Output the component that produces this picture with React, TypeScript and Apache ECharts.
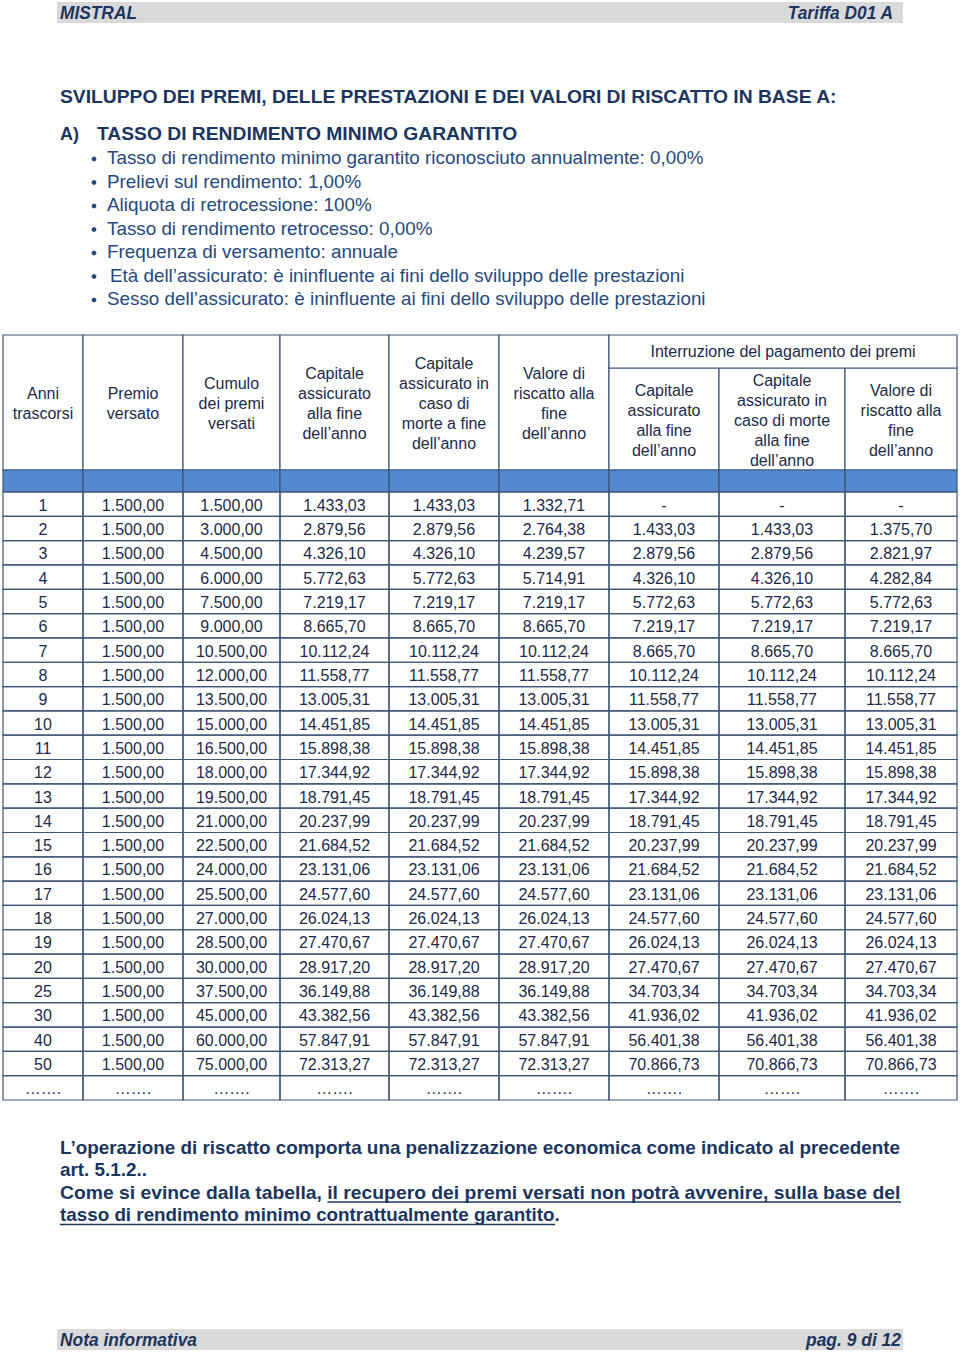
import React, { useEffect, useRef } from "react";
import * as echarts from "echarts";

// ---------------- DATA ----------------
const yearLabels = ["1","2","3","4","5","6","7","8","9","10","11","12","13","14","15","16","17","18","19","20","25","30","40","50"];
const premioVersato = [1500,1500,1500,1500,1500,1500,1500,1500,1500,1500,1500,1500,1500,1500,1500,1500,1500,1500,1500,1500,1500,1500,1500,1500];
const cumuloPremi = [1500,3000,4500,6000,7500,9000,10500,12000,13500,15000,16500,18000,19500,21000,22500,24000,25500,27000,28500,30000,37500,45000,60000,75000];
const capitaleFine = [1433.03,2879.56,4326.10,5772.63,7219.17,8665.70,10112.24,11558.77,13005.31,14451.85,15898.38,17344.92,18791.45,20237.99,21684.52,23131.06,24577.60,26024.13,27470.67,28917.20,36149.88,43382.56,57847.91,72313.27];
const capitaleMorte = [1433.03,2879.56,4326.10,5772.63,7219.17,8665.70,10112.24,11558.77,13005.31,14451.85,15898.38,17344.92,18791.45,20237.99,21684.52,23131.06,24577.60,26024.13,27470.67,28917.20,36149.88,43382.56,57847.91,72313.27];
const valoreRiscatto = [1332.71,2764.38,4239.57,5714.91,7219.17,8665.70,10112.24,11558.77,13005.31,14451.85,15898.38,17344.92,18791.45,20237.99,21684.52,23131.06,24577.60,26024.13,27470.67,28917.20,36149.88,43382.56,57847.91,72313.27];
const intCapitaleFine = [null,1433.03,2879.56,4326.10,5772.63,7219.17,8665.70,10112.24,11558.77,13005.31,14451.85,15898.38,17344.92,18791.45,20237.99,21684.52,23131.06,24577.60,26024.13,27470.67,34703.34,41936.02,56401.38,70866.73];
const intCapitaleMorte = [null,1433.03,2879.56,4326.10,5772.63,7219.17,8665.70,10112.24,11558.77,13005.31,14451.85,15898.38,17344.92,18791.45,20237.99,21684.52,23131.06,24577.60,26024.13,27470.67,34703.34,41936.02,56401.38,70866.73];
const intValoreRiscatto = [null,1375.70,2821.97,4282.84,5772.63,7219.17,8665.70,10112.24,11558.77,13005.31,14451.85,15898.38,17344.92,18791.45,20237.99,21684.52,23131.06,24577.60,26024.13,27470.67,34703.34,41936.02,56401.38,70866.73];
const ellipsisRow = "…….";

const columnHeaders = [
  "Anni\ntrascorsi",
  "Premio\nversato",
  "Cumulo\ndei premi\nversati",
  "Capitale\nassicurato\nalla fine\ndell’anno",
  "Capitale\nassicurato in\ncaso di\nmorte a fine\ndell’anno",
  "Valore di\nriscatto alla\nfine\ndell’anno",
  "Capitale\nassicurato\nalla fine\ndell’anno",
  "Capitale\nassicurato in\ncaso di morte\nalla fine\ndell’anno",
  "Valore di\nriscatto alla\nfine\ndell’anno",
];
const groupHeader = "Interruzione del pagamento dei premi";

const headerLeft = "MISTRAL";
const headerRight = "Tariffa D01 A";
const footerLeft = "Nota informativa";
const footerRight = "pag. 9 di 12";
const titleText = "SVILUPPO DEI PREMI, DELLE PRESTAZIONI E DEI VALORI DI RISCATTO IN BASE A:";
const sectionLetter = "A)";
const sectionText = "TASSO DI RENDIMENTO MINIMO GARANTITO";
const bulletItems = [
  "Tasso di rendimento minimo garantito riconosciuto annualmente: 0,00%",
  "Prelievi sul rendimento: 1,00%",
  "Aliquota di retrocessione: 100%",
  "Tasso di rendimento retrocesso: 0,00%",
  "Frequenza di versamento: annuale",
  "Età dell’assicurato: è ininfluente ai fini dello sviluppo delle prestazioni",
  "Sesso dell’assicurato: è ininfluente ai fini dello sviluppo delle prestazioni",
];
const noteLine1 = "L’operazione di riscatto comporta una penalizzazione economica come indicato al precedente";
const noteLine2 = "art. 5.1.2..";
const noteLine3a = "Come si evince dalla tabella, ";
const noteLine3b = "il recupero dei premi versati non potrà avvenire, sulla base del";
const noteLine4a = "tasso di rendimento minimo contrattualmente garantito";
const noteLine4b = ".";

// ---------------- LAYOUT / STYLE ----------------
const FONT = '"Liberation Sans", Arial, Helvetica, sans-serif';
const NAVY = "#1b355e";
const BULLET = "#26497c";
const TXT = "#1c2a48";
const LINE = "#3e5676";
const BAND = "#5289d1";
const GRAY = "#d9d9d9";
const TABLE_L = 3;
const TABLE_R = 957;
const colEdgesPx = [3, 83, 183, 280, 389, 499, 609, 719, 845, 957];
const HEAD_TOP = 335;
const GROUP_BOTTOM = 368;
const HEAD_BOTTOM = 470;
const BAND_BOTTOM = 492;
const BODY_BOTTOM = 1100;

function fmt(v: number | null): string {
  if (v == null) return "-";
  const parts = v.toFixed(2).split(".");
  return parts[0].replace(/\B(?=(\d{3})+(?!\d))/g, ".") + "," + parts[1];
}

let mctx: CanvasRenderingContext2D | null = null;
function measure(text: string, size: number, weight: string, style: string): number {
  if (!mctx) mctx = document.createElement("canvas").getContext("2d");
  if (!mctx) return text.length * size * 0.5;
  mctx.font = `${style} ${weight} ${size}px ${FONT}`;
  return mctx.measureText(text).width;
}

type TOpts = { size: number; weight?: string; style?: string; fill: string; align?: string; width?: number; scale?: number };
function txt(text: string, x: number, y: number, o: TOpts): any {
  const weight = o.weight || "normal";
  const style = o.style || "normal";
  let s = o.scale || 1;
  if (o.width) s = o.width / measure(text, o.size, weight, style);
  return {
    type: "text",
    x,
    y,
    scaleX: s,
    silent: true,
    style: {
      text,
      x: 0,
      y: 0,
      fill: o.fill,
      fontSize: o.size,
      fontWeight: weight,
      fontStyle: style,
      fontFamily: FONT,
      align: o.align || "left",
      verticalAlign: "middle",
    },
  };
}

function buildGraphics(): any[] {
  const g: any[] = [];
  // header / footer bars
  g.push({ type: "rect", shape: { x: 57, y: 2, width: 846, height: 21 }, style: { fill: GRAY }, silent: true });
  g.push(txt(headerLeft, 60, 12.5, { size: 18, weight: "bold", style: "italic", fill: NAVY, width: 77 }));
  g.push(txt(headerRight, 893, 12.5, { size: 18, weight: "bold", style: "italic", fill: NAVY, align: "right", width: 106 }));
  g.push({ type: "rect", shape: { x: 57, y: 1329, width: 846, height: 21 }, style: { fill: GRAY }, silent: true });
  g.push(txt(footerLeft, 60, 1339.5, { size: 18, weight: "bold", style: "italic", fill: NAVY, width: 137 }));
  g.push(txt(footerRight, 901, 1339.5, { size: 18, weight: "bold", style: "italic", fill: NAVY, align: "right", width: 95 }));

  // title
  g.push(txt(titleText, 60, 97, { size: 18, weight: "bold", fill: NAVY, width: 778 }));
  g.push(txt(sectionLetter, 60, 134, { size: 18, weight: "bold", fill: NAVY }));
  g.push(txt(sectionText, 97, 134, { size: 18, weight: "bold", fill: NAVY, width: 421 }));

  // bullets
  const bScale = 597 / measure(bulletItems[0], 18, "normal", "normal");
  const bY = [158, 181.5, 205, 228.5, 252, 275.5, 299];
  bulletItems.forEach((b, i) => {
    g.push({ type: "circle", shape: { cx: 94, cy: bY[i] + 1, r: 2.4 }, style: { fill: BULLET }, silent: true });
    g.push(txt(b, i === 5 ? 110 : 107, bY[i], { size: 18, fill: BULLET, scale: bScale }));
  });

  // table header cells
  const cellRect = (x0: number, y0: number, x1: number, y1: number, fill: string) => ({
    type: "rect",
    shape: { x: x0, y: y0, width: x1 - x0, height: y1 - y0 },
    style: { fill, stroke: LINE, lineWidth: 1.2 },
    silent: true,
  });
  for (let c = 0; c < 9; c++) {
    const x0 = colEdgesPx[c];
    const x1 = colEdgesPx[c + 1];
    const top = c >= 6 ? GROUP_BOTTOM : HEAD_TOP;
    g.push(cellRect(x0, top, x1, HEAD_BOTTOM, "#ffffff"));
    g.push(cellRect(x0, HEAD_BOTTOM, x1, BAND_BOTTOM, BAND));
    const cx = (x0 + x1) / 2;
    const cy = (top + HEAD_BOTTOM) / 2;
    g.push({
      type: "text",
      x: cx,
      y: cy + 1,
      silent: true,
      style: {
        text: columnHeaders[c],
        x: 0,
        y: 0,
        fill: TXT,
        fontSize: 16,
        fontFamily: FONT,
        lineHeight: 20,
        align: "center",
        verticalAlign: "middle",
      },
    });
  }
  g.push(cellRect(colEdgesPx[6], HEAD_TOP, TABLE_R, GROUP_BOTTOM, "#ffffff"));
  g.push(txt(groupHeader, (colEdgesPx[6] + TABLE_R) / 2, 351.5, { size: 16, fill: TXT, align: "center" }));

  // notes
  const nScale1 = 841 / measure(noteLine1, 18, "bold", "normal");
  g.push(txt(noteLine1, 60, 1148, { size: 18, weight: "bold", fill: NAVY, scale: nScale1 }));
  g.push(txt(noteLine2, 60, 1170, { size: 18, weight: "bold", fill: NAVY, scale: nScale1 }));
  const full3 = noteLine3a + noteLine3b;
  const nScale3 = 841 / measure(full3, 18, "bold", "normal");
  g.push(txt(full3, 60, 1192.5, { size: 18, weight: "bold", fill: NAVY, scale: nScale3 }));
  const ulStart = 60 + measure(noteLine3a, 18, "bold", "normal") * nScale3;
  g.push({ type: "line", shape: { x1: ulStart, y1: 1202, x2: 901, y2: 1202 }, style: { stroke: NAVY, lineWidth: 1.3 }, silent: true });
  const nScale4 = 495 / measure(noteLine4a, 18, "bold", "normal");
  g.push(txt(noteLine4a + noteLine4b, 60, 1215, { size: 18, weight: "bold", fill: NAVY, scale: nScale4 }));
  g.push({ type: "line", shape: { x1: 60, y1: 1224.5, x2: 555, y2: 1224.5 }, style: { stroke: NAVY, lineWidth: 1.3 }, silent: true });

  return g;
}

// body data for the custom series
const bodyColumns: (number | null)[][] = [
  premioVersato, cumuloPremi, capitaleFine, capitaleMorte, valoreRiscatto,
  intCapitaleFine, intCapitaleMorte, intValoreRiscatto,
];
const rowCategories = [...yearLabels, ellipsisRow];

function buildBody() {
  const data: number[][] = [];
  const texts: string[] = [];
  for (let r = 0; r < rowCategories.length; r++) {
    for (let c = 0; c < 9; c++) {
      data.push([colEdgesPx[c] - TABLE_L, r, c]);
      if (r >= yearLabels.length) texts.push(ellipsisRow);
      else if (c === 0) texts.push(yearLabels[r]);
      else texts.push(fmt(bodyColumns[c - 1][r]));
    }
  }
  return { data, texts };
}

export default function App() {
  const ref = useRef<HTMLDivElement>(null);
  useEffect(() => {
    if (!ref.current) return;
    const chart = echarts.init(ref.current, null, { renderer: "svg" });
    const body = buildBody();
    const edgesRel = colEdgesPx.map((e) => e - TABLE_L);
    chart.setOption({
      animation: false,
      backgroundColor: "#ffffff",
      grid: { left: TABLE_L, top: BAND_BOTTOM, width: TABLE_R - TABLE_L, height: BODY_BOTTOM - BAND_BOTTOM, containLabel: false },
      xAxis: { type: "value", min: 0, max: TABLE_R - TABLE_L, show: false },
      yAxis: { type: "category", data: rowCategories, inverse: true, show: false },
      graphic: buildGraphics(),
      series: [
        {
          type: "custom",
          silent: true,
          clip: false,
          data: body.data,
          encode: { x: 0, y: 1 },
          renderItem: (params: any, api: any) => {
            const r = api.value(1);
            const c = api.value(2);
            const p0 = api.coord([edgesRel[c], r]);
            const p1 = api.coord([edgesRel[c + 1], r]);
            const h = api.size([0, 1])[1];
            return {
              type: "group",
              children: [
                {
                  type: "rect",
                  shape: { x: p0[0], y: p0[1] - h / 2, width: p1[0] - p0[0], height: h },
                  style: { fill: "none", stroke: LINE, lineWidth: 1.2 },
                },
                {
                  type: "text",
                  style: {
                    text: body.texts[params.dataIndex],
                    x: (p0[0] + p1[0]) / 2,
                    y: p0[1] + 1,
                    align: "center",
                    verticalAlign: "middle",
                    fontSize: 16,
                    fontFamily: FONT,
                    fill: TXT,
                  },
                },
              ],
            };
          },
        },
      ],
    });
    return () => chart.dispose();
  }, []);
  return (
    <div
      ref={ref}
      style={{ position: "absolute", left: 0, top: 0, width: 960, height: 1352, background: "#ffffff" }}
    />
  );
}
